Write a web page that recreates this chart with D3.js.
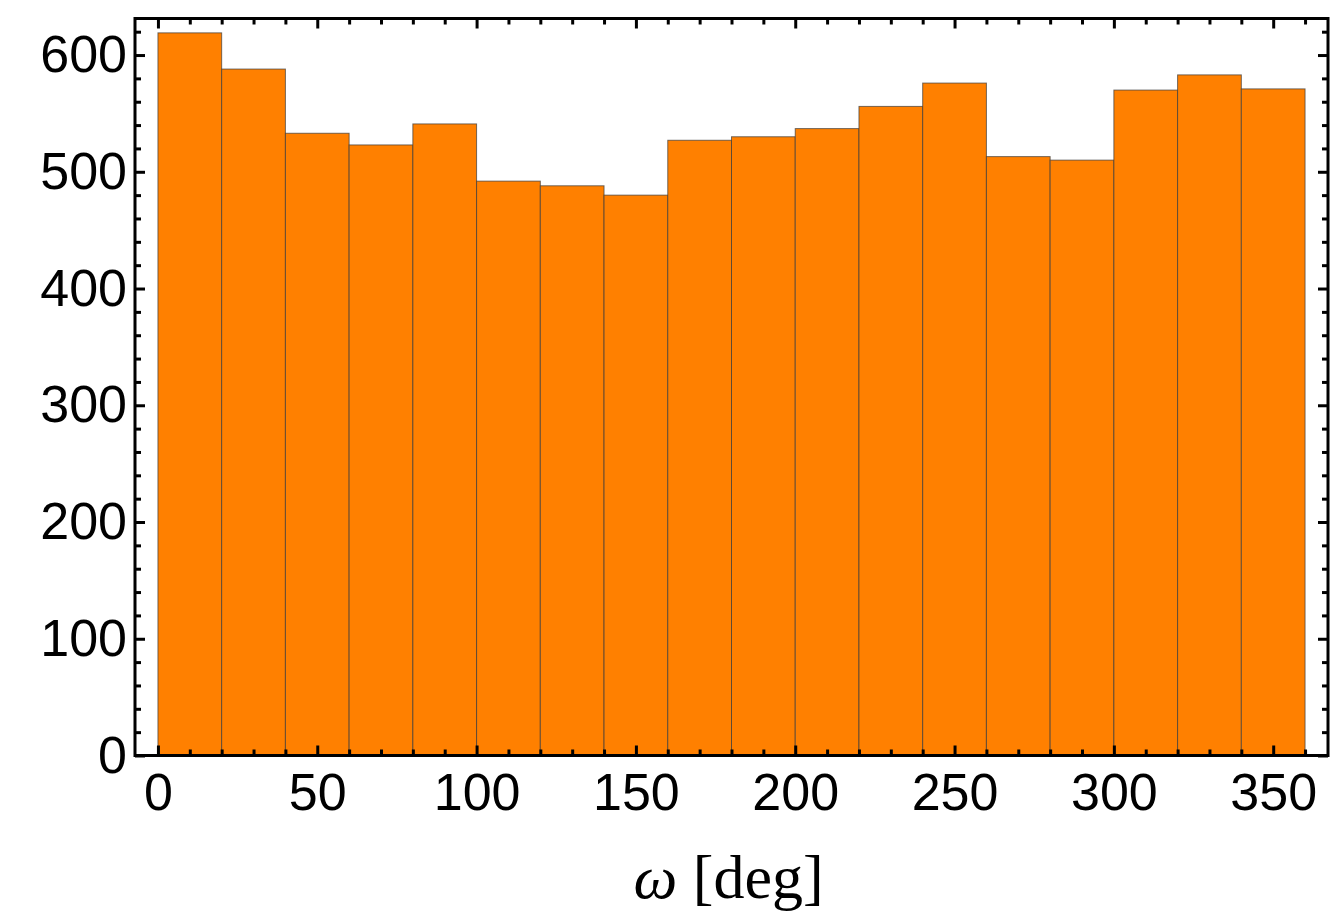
<!DOCTYPE html>
<html><head><meta charset="utf-8">
<script src="https://cdn.jsdelivr.net/npm/d3@7"></script>
<style>body{margin:0;background:#fff}svg{display:block}</style>
</head><body>
<svg id="c" width="1332" height="922"></svg>
<script>
const binStarts = [0,20,40,60,80,100,120,140,160,180,200,220,240,260,280,300,320,340];
const binWidth = 20;
const counts = [619,588,533,523,541,492,488,480,527,530,537,556,576,513,510,570,583,571];
const xMajorTicks = [0,50,100,150,200,250,300,350];
const yMajorTicks = [0,100,200,300,400,500,600];
const xMinorTicks = d3.range(0,361,10).filter(v=>v%50!==0);
const yMinorTicks = d3.range(0,631,20).filter(v=>v%100!==0);

const svg = d3.select('#c');
const L=135, R=1328, T=18.5, B=755.5;
const x = d3.scaleLinear().domain([-7.2,367.2]).range([L,R]);
const y = d3.scaleLinear().domain([0,631.3]).range([B,T]);

svg.append('g').selectAll('rect').data(binStarts).join('rect')
  .attr('x',(d)=>x(d)).attr('width',(d)=>x(d+binWidth)-x(d))
  .attr('y',(d,i)=>y(counts[i])).attr('height',(d,i)=>y(0)-y(counts[i]))
  .attr('fill','#ff8000').attr('stroke','#3a3a3a').attr('stroke-opacity',0.7).attr('stroke-width',1);

function styleAxis(g){
  g.select('.domain').remove();
  g.selectAll('.tick line').attr('stroke','#000').attr('stroke-width',3);
  g.selectAll('.tick text').attr('font-family','"Liberation Sans", Arial, sans-serif').attr('font-size',52).attr('fill','#000');
}
// bottom
svg.append('g').attr('transform',`translate(0,${B})`)
  .call(d3.axisBottom(x).tickValues(xMajorTicks).tickSizeInner(-10).tickSizeOuter(0).tickPadding(18).tickFormat(d3.format('d')))
  .call(styleAxis);
svg.append('g').attr('transform',`translate(0,${B})`)
  .call(d3.axisBottom(x).tickValues(xMinorTicks).tickSizeInner(-6).tickSizeOuter(0).tickFormat(''))
  .call(styleAxis);
// top
svg.append('g').attr('transform',`translate(0,${T})`)
  .call(d3.axisTop(x).tickValues(xMajorTicks).tickSizeInner(-10).tickSizeOuter(0).tickFormat(''))
  .call(styleAxis);
svg.append('g').attr('transform',`translate(0,${T})`)
  .call(d3.axisTop(x).tickValues(xMinorTicks).tickSizeInner(-6).tickSizeOuter(0).tickFormat(''))
  .call(styleAxis);
// left
svg.append('g').attr('transform',`translate(${L},0)`)
  .call(d3.axisLeft(y).tickValues(yMajorTicks).tickSizeInner(-10).tickSizeOuter(0).tickPadding(8).tickFormat(d3.format('d')))
  .call(styleAxis);
svg.append('g').attr('transform',`translate(${L},0)`)
  .call(d3.axisLeft(y).tickValues(yMinorTicks).tickSizeInner(-6).tickSizeOuter(0).tickFormat(''))
  .call(styleAxis);
// right
svg.append('g').attr('transform',`translate(${R},0)`)
  .call(d3.axisRight(y).tickValues(yMajorTicks).tickSizeInner(-10).tickSizeOuter(0).tickFormat(''))
  .call(styleAxis);
svg.append('g').attr('transform',`translate(${R},0)`)
  .call(d3.axisRight(y).tickValues(yMinorTicks).tickSizeInner(-6).tickSizeOuter(0).tickFormat(''))
  .call(styleAxis);

svg.append('rect').attr('x',L).attr('y',T).attr('width',R-L).attr('height',B-T)
  .attr('fill','none').attr('stroke','#000').attr('stroke-width',3);

const lab = svg.append('text').attr('x',(L+R)/2-3).attr('y',898).attr('text-anchor','middle')
  .attr('font-family','"Liberation Serif", "DejaVu Serif", serif').attr('font-size',62).attr('fill','#000');
lab.append('tspan').attr('font-style','italic').text('ω');
lab.append('tspan').text(' [deg]');
</script>
</body></html>
